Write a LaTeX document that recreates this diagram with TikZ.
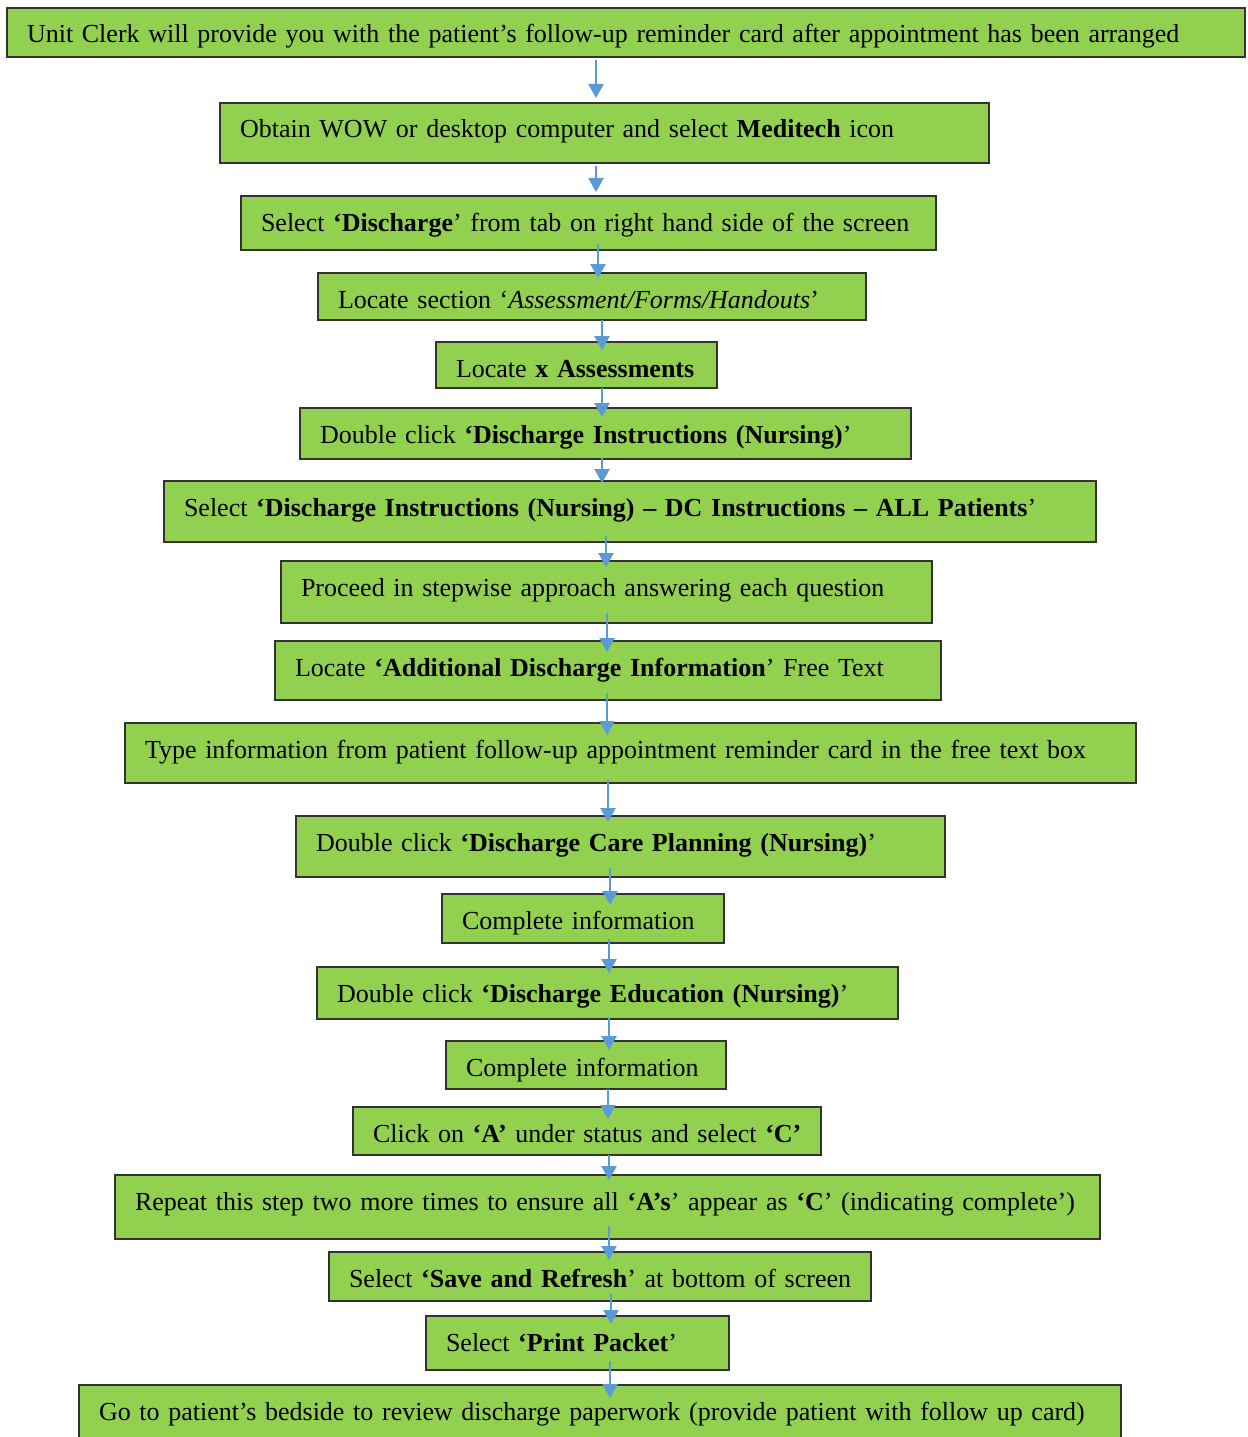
\documentclass[tikz,border=0pt]{standalone}
\usepackage{fontspec}
\setmainfont{Liberation Serif}
\usetikzlibrary{arrows.meta}
\definecolor{boxgreen}{HTML}{92D050}
\definecolor{boxline}{HTML}{333333}
\definecolor{arrblue}{HTML}{5B9BD5}
\tikzset{
  stepbox/.style={draw=boxline, line width=1.3bp, fill=boxgreen, anchor=north west,
    inner xsep=20bp, inner ysep=0pt, outer sep=0pt, align=left, text height=35bp,
    font=\fontsize{26bp}{30bp}\selectfont},
  flowarrow/.style={draw=arrblue, line width=2.6bp, -{Triangle[width=15bp,length=14bp]}}
}
\newcommand\flowbox[6]{%
  \pgfmathsetmacro\fbtw{#4-40}\pgfmathsetmacro\fbtd{#5-35}%
  \node[stepbox, minimum width=#4bp, text width=\fbtw bp, text depth=\fbtd bp] (#1) at (#2,#3) {\mbox{#6}};}
\newcommand\flowlink[5]{%
  \coordinate (ax-#1) at (#3,0);
  \draw[flowarrow, shorten <=#4bp, shorten >=#5bp] (#1.south -| ax-#1) -- (#2.north -| ax-#1);}
\begin{document}
\begin{tikzpicture}[x=1bp,y=-1bp]
\useasboundingbox (0,0) rectangle (1247,1437);
\flowbox{b1}{7}{8}{1238}{49}{Unit Clerk will provide you with the patient’s follow-up reminder card after appointment has been arranged}
\flowbox{b2}{220}{103}{769}{60}{Obtain WOW or desktop computer and select \textbf{Meditech} icon}
\flowbox{b3}{241}{196}{695}{54}{Select \textbf{‘Discharge}’ from tab on right hand side of the screen}
\flowbox{b4}{318}{273}{548}{47}{Locate section ‘\textit{Assessment/Forms/Handouts}’}
\flowbox{b5}{436}{342}{281}{46}{Locate \textbf{x Assessments}}
\flowbox{b6}{300}{408}{611}{51}{Double click \textbf{‘Discharge Instructions (Nursing)}’}
\flowbox{b7}{164}{481}{932}{61}{Select \textbf{‘Discharge Instructions (Nursing) – DC Instructions – ALL Patients}’}
\flowbox{b8}{281}{561}{651}{62}{Proceed in stepwise approach answering each question}
\flowbox{b9}{275}{641}{666}{59}{Locate \textbf{‘Additional Discharge Information}’ Free Text}
\flowbox{b10}{125}{723}{1011}{60}{Type information from patient follow-up appointment reminder card in the free text box}
\flowbox{b11}{296}{816}{649}{61}{Double click \textbf{‘Discharge Care Planning (Nursing)}’}
\flowbox{b12}{442}{894}{282}{49}{Complete information}
\flowbox{b13}{317}{967}{581}{52}{Double click \textbf{‘Discharge Education (Nursing)}’}
\flowbox{b14}{446}{1041}{280}{48}{Complete information}
\flowbox{b15}{353}{1107}{468}{48}{Click on \textbf{‘A’} under status and select \textbf{‘C’}}
\flowbox{b16}{115}{1175}{985}{64}{Repeat this step two more times to ensure all \textbf{‘A’s}’ appear as \textbf{‘C}’ (indicating complete’)}
\flowbox{b17}{329}{1252}{542}{49}{Select \textbf{‘Save and Refresh}’ at bottom of screen}
\flowbox{b18}{426}{1316}{303}{54}{Select \textbf{‘Print Packet}’}
\flowbox{b19}{79}{1385}{1042}{60}{Go to patient’s bedside to review discharge paperwork (provide patient with follow up card)}
\flowlink{b1}{b2}{596}{3}{5}
\flowlink{b2}{b3}{596}{3}{4}
\flowlink{b3}{b4}{598}{-6}{-5}
\flowlink{b4}{b5}{602}{0}{-8}
\flowlink{b5}{b6}{602}{0}{-9}
\flowlink{b6}{b7}{602}{-1}{-2}
\flowlink{b7}{b8}{606}{-6}{-6}
\flowlink{b8}{b9}{607}{-10}{-11}
\flowlink{b9}{b10}{607}{-7}{-12}
\flowlink{b10}{b11}{608}{-3}{-6}
\flowlink{b11}{b12}{610}{-9}{-11}
\flowlink{b12}{b13}{609}{-4}{-6}
\flowlink{b13}{b14}{609}{-2}{-9}
\flowlink{b14}{b15}{608}{0}{-12}
\flowlink{b15}{b16}{609}{0}{-5}
\flowlink{b16}{b17}{609}{-13}{-8}
\flowlink{b17}{b18}{611}{-7}{-8}
\flowlink{b18}{b19}{610}{-9}{-13}
\end{tikzpicture}
\end{document}
